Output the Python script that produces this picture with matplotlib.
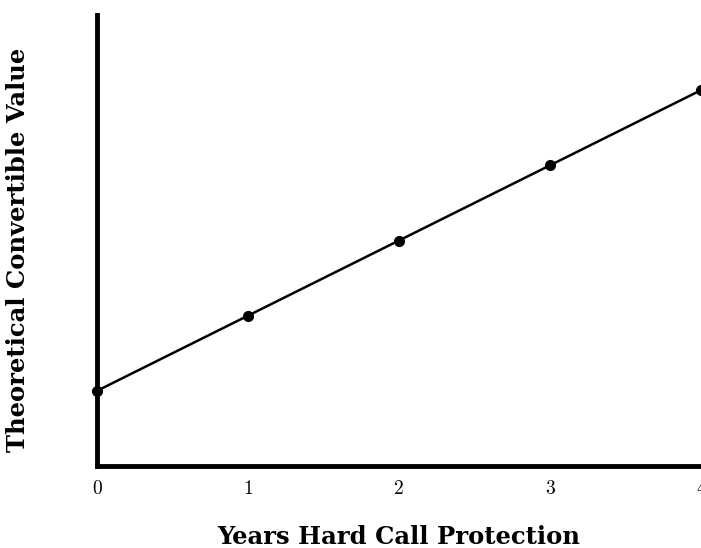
import matplotlib
matplotlib.use("Agg")
import matplotlib.pyplot as plt

years = [0, 1, 2, 3, 4]
value = [1, 2, 3, 4, 5]
xtick_labels = ["0", "1", "2", "3", "4"]

fig = plt.figure(figsize=(7.01, 5.48), dpi=100)
ax = fig.add_axes([97/701, 82/548, (701-97)/701, (466-15)/548])
ax.plot(years, value, color='black', lw=1.8, marker='o', markersize=7, clip_on=False, zorder=3)
ax.set_xlim(0, 4)
ax.set_ylim(0, 6)
ax.set_xticks(years)
ax.set_xticklabels(xtick_labels, fontfamily='cmr10', fontsize=14)
ax.set_yticks([])
ax.tick_params(axis='x', length=0, pad=10)
for s in ['top', 'right']:
    ax.spines[s].set_visible(False)
ax.spines['left'].set_linewidth(3.5)
ax.spines['bottom'].set_linewidth(3.5)
lab_font = dict(fontfamily='DejaVu Serif', fontweight='bold', fontsize=17.5)
ax.set_xlabel("Years Hard Call Protection", **lab_font)
ax.set_ylabel("Theoretical Convertible Value", **lab_font)
ax.xaxis.set_label_coords(0.5, -0.13)
ax.yaxis.set_label_coords(-0.111, 0.479)
fig.savefig("out.png", dpi=100)
